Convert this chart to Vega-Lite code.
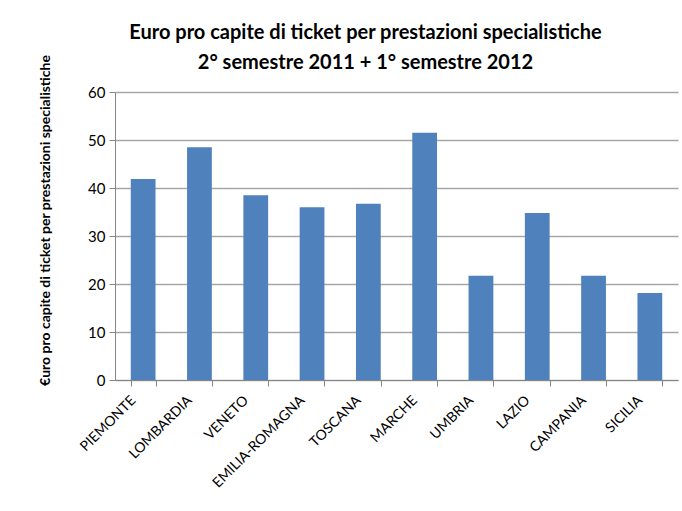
{
  "$schema": "https://vega.github.io/schema/vega-lite/v6.json",
  "autosize": {"type": "none"},
  "padding": {"left": 115, "top": 92, "right": 4, "bottom": 131},
  "width": 563,
  "height": 288,
  "background": "white",
  "title": {
    "text": ["Euro pro capite di ticket per prestazioni specialistiche", "2° semestre 2011 + 1° semestre 2012"],
    "font": "Lato",
    "fontSize": 20,
    "fontWeight": "bold",
    "color": "#000000",
    "lineHeight": 30,
    "anchor": "middle",
    "frame": "group",
    "dx": -31,
    "offset": -19
  },
  "data": {
    "values": [
      {"regione": "PIEMONTE", "valore": 41.9},
      {"regione": "LOMBARDIA", "valore": 48.5},
      {"regione": "VENETO", "valore": 38.5},
      {"regione": "EMILIA-ROMAGNA", "valore": 36.0},
      {"regione": "TOSCANA", "valore": 36.7},
      {"regione": "MARCHE", "valore": 51.5},
      {"regione": "UMBRIA", "valore": 21.7},
      {"regione": "LAZIO", "valore": 34.8},
      {"regione": "CAMPANIA", "valore": 21.7},
      {"regione": "SICILIA", "valore": 18.1}
    ]
  },
  "mark": {"type": "bar", "color": "#4F81BD"},
  "encoding": {
    "x": {
      "field": "regione",
      "type": "nominal",
      "sort": null,
      "scale": {"paddingInner": 0.56, "paddingOuter": 0.28},
      "axis": {
        "title": null,
        "labelAngle": -45,
        "labelAlign": "right",
        "labelBaseline": "middle",
        "labelFont": "Lato",
        "labelFontSize": 14,
        "labelColor": "#000000",
        "labelPadding": 12,
        "labelOffset": -10,
        "tickBand": "extent",
        "tickSize": 6,
        "tickColor": "#868686",
        "domainColor": "#868686",
        "domainWidth": 1
      }
    },
    "y": {
      "field": "valore",
      "type": "quantitative",
      "scale": {"domain": [0, 60], "nice": false},
      "axis": {
        "values": [0, 10, 20, 30, 40, 50, 60],
        "title": "€uro pro capite di ticket per prestazioni specialistiche",
        "titleFont": "Lato",
        "titleFontSize": 14,
        "titleFontWeight": "bold",
        "titleColor": "#000000",
        "titleX": -70,
        "titleY": 128,
        "titleAngle": -90,
        "titleAlign": "center",
        "titleBaseline": "middle",
        "labelFont": "Lato",
        "labelFontSize": 15,
        "labelColor": "#000000",
        "labelPadding": 4,
        "tickSize": 6,
        "tickColor": "#868686",
        "domainColor": "#868686",
        "grid": true,
        "gridColor": "#A6A6A6",
        "gridWidth": 1.5
      }
    }
  },
  "config": {"view": {"stroke": null}}
}
